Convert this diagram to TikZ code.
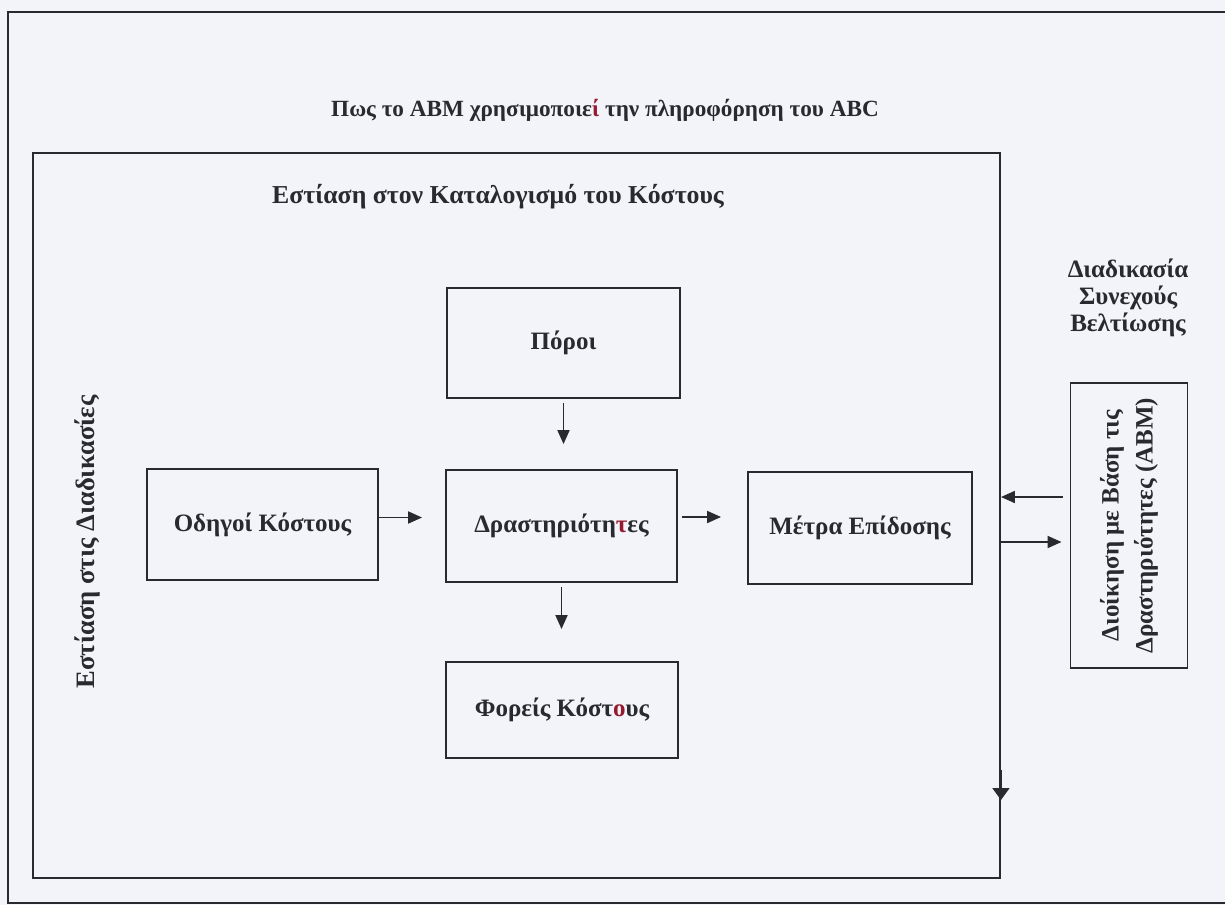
\documentclass[tikz,border=0pt]{standalone}
\usepackage{fontspec}
\setmainfont{Liberation Serif}
\usetikzlibrary{arrows.meta}
\definecolor{papercol}{RGB}{242,244,250}
\definecolor{linecol}{RGB}{40,42,48}
\definecolor{accentcol}{RGB}{150,25,45}

\begin{document}
\begin{tikzpicture}[x=0.5pt,y=-0.5pt,
	every node/.style={font=\bfseries\fontsize{12.5}{15}\selectfont, text=linecol},
	box/.style={draw=linecol, line width=0.95pt, inner sep=0pt},
	arr/.style={draw=linecol, line width=0.95pt, -{Triangle[length=7pt,width=6pt]}}]
					\useasboundingbox (0,0) rectangle (1225,905);
					\fill[papercol] (0,0) rectangle (1225,905);
					\draw[linecol, line width=1pt] (1240,12) -- (8,12) -- (8,903) -- (1240,903);
					\node[box, minimum width=483.5pt, minimum height=362.5pt] (frame) at (516.5,515.5) {};
					\node[font=\bfseries\fontsize{11.6}{14}\selectfont] (title) at (605,110) {Πως το ABM χρησιμοποιε\textcolor{accentcol}{ί} την πληροφόρηση του ABC};
					\node[font=\bfseries\fontsize{12.9}{15}\selectfont] (focus) at (498,197) {Εστίαση στον Καταλογισμό του Κόστους};
					\node[rotate=90, font=\bfseries\fontsize{13.3}{15}\selectfont] (proc) at (87,542) {Εστίαση στις Διαδικασίες};
					\node[align=center, font=\bfseries\fontsize{12.5}{13.5}\selectfont] (cont) at (1128,298) {Διαδικασία\\Συνεχούς\\Βελτίωσης};
					\node[box, minimum width=116.5pt, minimum height=55pt] (pr) at (563.5,343) {Πόροι};
					\node[box, minimum width=115.5pt, minimum height=55.5pt] (od) at (262.5,524.5) {Οδηγοί Κόστους};
					\node[box, minimum width=115.5pt, minimum height=56pt] (dr) at (561.5,526) {Δραστηριότη\textcolor{accentcol}{τ}ες};
					\node[box, minimum width=116pt, minimum height=48pt] (fo) at (562,710) {Φορείς Κόστ\textcolor{accentcol}{ο}υς};
					\node[box, minimum width=112pt, minimum height=56pt] (me) at (860,528) {Μέτρα Επίδοσης};
					\node[box, minimum width=58.5pt, minimum height=142.5pt] (abm) at (1129,525.5) {};
					\node[rotate=90, align=center, font=\bfseries\fontsize{12.5}{17}\selectfont] (abmtxt) at (abm.center) {Διοίκηση με Βάση τις\\Δραστηριότητες (ABM)};
					\draw[arr, shorten <=2pt, shorten >=12.5pt] (pr.south) -- (pr.south |- dr.north);
					\draw[arr, shorten <=2pt, shorten >=16pt] (dr.south) -- (dr.south |- fo.north);
					\draw[arr, shorten >=11.5pt] ([yshift=3.5pt]od.east) -- ([yshift=3.5pt]od.east -| dr.west);
					\draw[arr, shorten <=2pt, shorten >=13pt] ([yshift=4.5pt]dr.east) -- ([yshift=4.5pt]dr.east -| me.west);
					\draw[arr, shorten <=3.5pt] (abm.west |- 0,497) -- (frame.east |- 0,497);
					\draw[arr, shorten >=4pt] (frame.east |- 0,542) -- (abm.west |- 0,542);
					\draw[arr, -{Triangle[length=6pt,width=8.5pt]}] (frame.east |- 0,770) -- (frame.east |- 0,800);
				\end{tikzpicture}
\end{document}
